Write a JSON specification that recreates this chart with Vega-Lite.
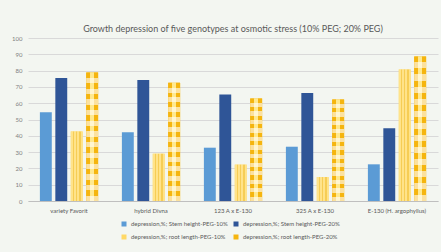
{
 "$schema": "https://vega.github.io/schema/vega-lite/v6.json",
 "width": 410,
 "height": 163,
 "autosize": "none",
 "padding": {"left": 28, "top": 38, "right": 3, "bottom": 51},
 "background": "#f3f6f1",
 "config": {"font": "Lato", "view": {"stroke": null}},
 "title": {"text": "Growth depression of five genotypes at osmotic stress (10% PEG; 20% PEG)", "fontSize": 9, "font": "Lato", "fontWeight": "normal", "color": "#595959", "offset": 1},
 "data": {"values": [
  {"genotype": "variety Favorit", "series": "depression,%; Stem height-PEG-10%", "value": 54.5},
  {"genotype": "variety Favorit", "series": "depression,%; Stem height-PEG-20%", "value": 75.5},
  {"genotype": "variety Favorit", "series": "depression,%; root length-PEG-10%", "value": 42.7},
  {"genotype": "variety Favorit", "series": "depression,%; root length-PEG-20%", "value": 78.8},
  {"genotype": "hybrid Divna", "series": "depression,%; Stem height-PEG-10%", "value": 42.2},
  {"genotype": "hybrid Divna", "series": "depression,%; Stem height-PEG-20%", "value": 74.3},
  {"genotype": "hybrid Divna", "series": "depression,%; root length-PEG-10%", "value": 29.0},
  {"genotype": "hybrid Divna", "series": "depression,%; root length-PEG-20%", "value": 72.6},
  {"genotype": "123 A x E-130", "series": "depression,%; Stem height-PEG-10%", "value": 32.7},
  {"genotype": "123 A x E-130", "series": "depression,%; Stem height-PEG-20%", "value": 65.3},
  {"genotype": "123 A x E-130", "series": "depression,%; root length-PEG-10%", "value": 22.3},
  {"genotype": "123 A x E-130", "series": "depression,%; root length-PEG-20%", "value": 62.9},
  {"genotype": "325 A x E-130", "series": "depression,%; Stem height-PEG-10%", "value": 33.3},
  {"genotype": "325 A x E-130", "series": "depression,%; Stem height-PEG-20%", "value": 66.3},
  {"genotype": "325 A x E-130", "series": "depression,%; root length-PEG-10%", "value": 14.7},
  {"genotype": "325 A x E-130", "series": "depression,%; root length-PEG-20%", "value": 62.2},
  {"genotype": "E-130 (H. argophyllus)", "series": "depression,%; Stem height-PEG-10%", "value": 22.5},
  {"genotype": "E-130 (H. argophyllus)", "series": "depression,%; Stem height-PEG-20%", "value": 44.7},
  {"genotype": "E-130 (H. argophyllus)", "series": "depression,%; root length-PEG-10%", "value": 80.6},
  {"genotype": "E-130 (H. argophyllus)", "series": "depression,%; root length-PEG-20%", "value": 88.7}
 ]},
 "encoding": {
  "x": {"field": "genotype", "type": "nominal",
   "sort": ["variety Favorit", "hybrid Divna", "123 A x E-130", "325 A x E-130", "E-130 (H. argophyllus)"],
   "scale": {"paddingInner": 0.29, "paddingOuter": 0.145},
   "axis": {"title": null, "labelAngle": 0, "ticks": false, "domainColor": "#bfbfbf", "labelFontSize": 6, "labelColor": "#595959", "labelPadding": 6}},
  "xOffset": {"field": "series", "type": "nominal",
   "sort": ["depression,%; Stem height-PEG-10%", "depression,%; Stem height-PEG-20%", "depression,%; root length-PEG-10%", "depression,%; root length-PEG-20%"],
   "scale": {"paddingInner": 0.23, "paddingOuter": 0}},
  "y": {"field": "value", "type": "quantitative", "scale": {"domain": [0, 100]},
   "axis": {"title": null, "values": [0, 10, 20, 30, 40, 50, 60, 70, 80, 90, 100], "ticks": false, "domain": false, "gridColor": "#d9d9d9", "labelFontSize": 6, "labelColor": "#7f7f7f", "labelPadding": 6}}
 },
 "layer": [
  {"mark": {"type": "bar"},
   "encoding": {
    "color": {"field": "series", "type": "nominal",
     "scale": {"domain": ["depression,%; Stem height-PEG-10%", "depression,%; Stem height-PEG-20%", "depression,%; root length-PEG-10%", "depression,%; root length-PEG-20%"],
      "range": ["#5b9bd5", "#2f5597", "#ffd966", "#f5b50f"]},
     "legend": {"title": null, "orient": "none", "legendX": 93, "legendY": 183, "direction": "horizontal", "columns": 2, "labelFontSize": 6, "labelColor": "#595959", "symbolType": "square", "symbolSize": 25, "symbolStrokeWidth": 0, "columnPadding": 5, "rowPadding": 7, "labelLimit": 200}}
   }},
  {"transform": [{"filter": "datum.series === 'depression,%; root length-PEG-10%'"}],
   "mark": {"type": "bar", "fill": {"gradient": "linear", "x1": 0, "y1": 0, "x2": 1, "y2": 0, "stops": [
      {"offset": 0, "color": "#ffe38a"}, {"offset": 0.16, "color": "#ffe38a"},
      {"offset": 0.16, "color": "#f6cd55"}, {"offset": 0.28, "color": "#f6cd55"},
      {"offset": 0.28, "color": "#ffe38a"}, {"offset": 0.44, "color": "#ffe38a"},
      {"offset": 0.44, "color": "#f6cd55"}, {"offset": 0.56, "color": "#f6cd55"},
      {"offset": 0.56, "color": "#ffe38a"}, {"offset": 0.72, "color": "#ffe38a"},
      {"offset": 0.72, "color": "#f6cd55"}, {"offset": 0.84, "color": "#f6cd55"},
      {"offset": 0.84, "color": "#ffe38a"}, {"offset": 1, "color": "#ffe38a"}]}}},
  {"transform": [{"filter": "datum.series === 'depression,%; root length-PEG-20%'"}],
   "mark": {"type": "bar", "fill": {"gradient": "linear", "x1": 0, "y1": 0, "x2": 1, "y2": 0, "stops": [
      {"offset": 0, "color": "#f5b50f"}, {"offset": 0.33, "color": "#f5b50f"},
      {"offset": 0.33, "color": "#ffe98f"}, {"offset": 0.67, "color": "#ffe98f"},
      {"offset": 0.67, "color": "#f5b50f"}, {"offset": 1, "color": "#f5b50f"}]}}},
  {"transform": [{"filter": "datum.series === 'depression,%; root length-PEG-20%'"}],
   "mark": {"type": "bar", "fill": {"gradient": "linear", "x1": 0, "y1": 0, "x2": 0, "y2": 1, "stops": [
      {"offset": 0, "color": "rgba(255,255,255,0)"}, {"offset": 0.0417, "color": "rgba(255,255,255,0)"},
      {"offset": 0.0417, "color": "rgba(255,255,255,0.6)"}, {"offset": 0.0833, "color": "rgba(255,255,255,0.6)"},
      {"offset": 0.0833, "color": "rgba(255,255,255,0)"}, {"offset": 0.125, "color": "rgba(255,255,255,0)"},
      {"offset": 0.125, "color": "rgba(255,255,255,0.6)"}, {"offset": 0.1667, "color": "rgba(255,255,255,0.6)"},
      {"offset": 0.1667, "color": "rgba(255,255,255,0)"}, {"offset": 0.2083, "color": "rgba(255,255,255,0)"},
      {"offset": 0.2083, "color": "rgba(255,255,255,0.6)"}, {"offset": 0.25, "color": "rgba(255,255,255,0.6)"},
      {"offset": 0.25, "color": "rgba(255,255,255,0)"}, {"offset": 0.2917, "color": "rgba(255,255,255,0)"},
      {"offset": 0.2917, "color": "rgba(255,255,255,0.6)"}, {"offset": 0.3333, "color": "rgba(255,255,255,0.6)"},
      {"offset": 0.3333, "color": "rgba(255,255,255,0)"}, {"offset": 0.375, "color": "rgba(255,255,255,0)"},
      {"offset": 0.375, "color": "rgba(255,255,255,0.6)"}, {"offset": 0.4167, "color": "rgba(255,255,255,0.6)"},
      {"offset": 0.4167, "color": "rgba(255,255,255,0)"}, {"offset": 0.4583, "color": "rgba(255,255,255,0)"},
      {"offset": 0.4583, "color": "rgba(255,255,255,0.6)"}, {"offset": 0.5, "color": "rgba(255,255,255,0.6)"},
      {"offset": 0.5, "color": "rgba(255,255,255,0)"}, {"offset": 0.5417, "color": "rgba(255,255,255,0)"},
      {"offset": 0.5417, "color": "rgba(255,255,255,0.6)"}, {"offset": 0.5833, "color": "rgba(255,255,255,0.6)"},
      {"offset": 0.5833, "color": "rgba(255,255,255,0)"}, {"offset": 0.625, "color": "rgba(255,255,255,0)"},
      {"offset": 0.625, "color": "rgba(255,255,255,0.6)"}, {"offset": 0.6667, "color": "rgba(255,255,255,0.6)"},
      {"offset": 0.6667, "color": "rgba(255,255,255,0)"}, {"offset": 0.7083, "color": "rgba(255,255,255,0)"},
      {"offset": 0.7083, "color": "rgba(255,255,255,0.6)"}, {"offset": 0.75, "color": "rgba(255,255,255,0.6)"},
      {"offset": 0.75, "color": "rgba(255,255,255,0)"}, {"offset": 0.7917, "color": "rgba(255,255,255,0)"},
      {"offset": 0.7917, "color": "rgba(255,255,255,0.6)"}, {"offset": 0.8333, "color": "rgba(255,255,255,0.6)"},
      {"offset": 0.8333, "color": "rgba(255,255,255,0)"}, {"offset": 0.875, "color": "rgba(255,255,255,0)"},
      {"offset": 0.875, "color": "rgba(255,255,255,0.6)"}, {"offset": 0.9167, "color": "rgba(255,255,255,0.6)"},
      {"offset": 0.9167, "color": "rgba(255,255,255,0)"}, {"offset": 0.9583, "color": "rgba(255,255,255,0)"},
      {"offset": 0.9583, "color": "rgba(255,255,255,0.6)"}, {"offset": 1, "color": "rgba(255,255,255,0.6)"}]}}}
 ]
}
